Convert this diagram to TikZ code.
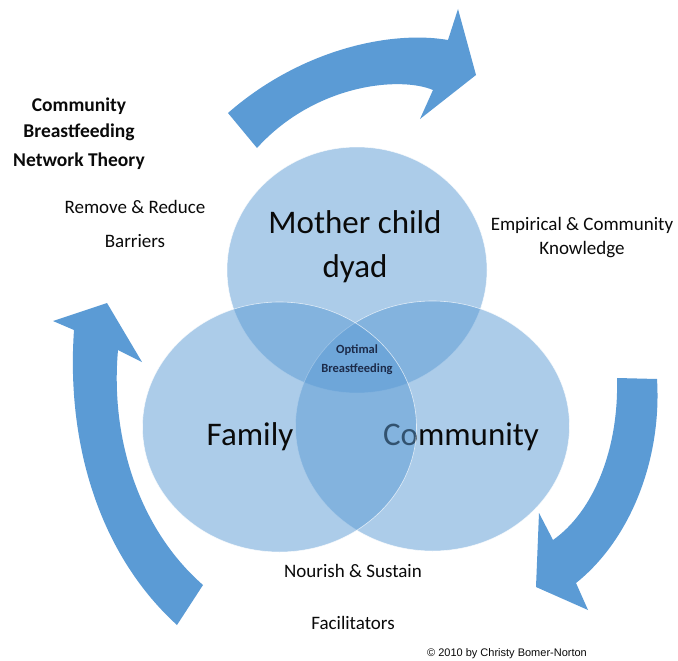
\documentclass[tikz,border=0pt]{standalone}
\usepackage{fontspec}
\setmainfont{Carlito}
\newfontfamily\arialfont{Liberation Sans}
\usetikzlibrary{shapes.geometric}
\definecolor{cycleblue}{HTML}{5B9BD5}
\definecolor{vennblue}{HTML}{5B9BD5}
\definecolor{ink}{HTML}{0A0A0A}
\definecolor{navy}{HTML}{1C2B4A}

\begin{document}
\begin{tikzpicture}[x=1pt,y=-1pt,
  venn/.style={ellipse, inner sep=0, fill=vennblue, fill opacity=0.5,
    draw=white, draw opacity=0.7, line width=0.6pt},
  bigtext/.style={anchor=base, inner sep=0, text=ink, font=\fontsize{33}{40}\selectfont},
  notetext/.style={anchor=base, inner sep=0, text=ink, font=\fontsize{19}{23}\selectfont},
  titletext/.style={anchor=base, inner sep=0, text=ink, font=\fontsize{19.5}{24}\selectfont\bfseries},
  smalltext/.style={anchor=base, inner sep=0, text=navy, font=\fontsize{12.5}{15}\selectfont\bfseries},
  cyclearrow/.style={fill=cycleblue}]
\useasboundingbox (0,0) rectangle (678,661);
\fill[white] (0,0) rectangle (678,661);

% curved arrows running clockwise round the diagram
\fill[cyclearrow] (228,113) .. controls (300,50) and (390,30) .. (448,40)
  -- (458,9) -- (476,75) -- (420,119) -- (433,90)
  .. controls (400,76) and (315,84) .. (257,148)
  -- cycle;

\fill[cyclearrow] (617,378) -- (657,379)
  .. controls (662,460) and (630,540) .. (576,583)
  -- (588,610) -- (536,587) -- (539,513) -- (553,540)
  .. controls (593,512) and (619,450) .. (617,378)
  -- cycle;

\fill[cyclearrow] (53,321) -- (107,303) -- (142,362) -- (118,350)
  .. controls (110,440) and (140,530) .. (203,585)
  -- (177,625)
  .. controls (100,555) and (66,445) .. (74,330)
  -- cycle;

% Venn circles and their labels
\node[venn, minimum width=260pt, minimum height=246pt] (mother) at (357,270) {};
\node[venn, minimum width=274pt, minimum height=250pt] (community) at (432.5,426) {};
\node[bigtext] (motherA) at (355,233) {Mother child};
\node[bigtext] (motherB) at (355,277) {dyad};
\node[bigtext] (communityL) at (461,445) {Community};
\node[venn, minimum width=274pt, minimum height=250pt] (family) at (279.5,427) {};
\node[bigtext] (familyL) at (250,445) {Family};
\node[smalltext] (optA) at (357,353) {Optimal};
\node[smalltext] (optB) at (357,372) {Breastfeeding};

% title and notes
\node[titletext] (titleA) at (79,111) {Community};
\node[titletext] (titleB) at (79,138) {Breastfeeding};
\node[titletext] (titleC) at (79,166) {Network Theory};
\node[notetext] (removeA) at (135,213) {Remove \& Reduce};
\node[notetext] (removeB) at (135,247) {Barriers};
\node[notetext] (empA) at (582,230) {Empirical \& Community};
\node[notetext] (empB) at (582,254) {Knowledge};
\node[notetext] (nourish) at (353,577) {Nourish \& Sustain};
\node[notetext] (facil) at (353,629) {Facilitators};
\node[anchor=base, inner sep=0, text=ink, font=\arialfont\fontsize{11}{13}\selectfont] (copy) at (507,656) {© 2010 by Christy Bomer-Norton};
\end{tikzpicture}
\end{document}
